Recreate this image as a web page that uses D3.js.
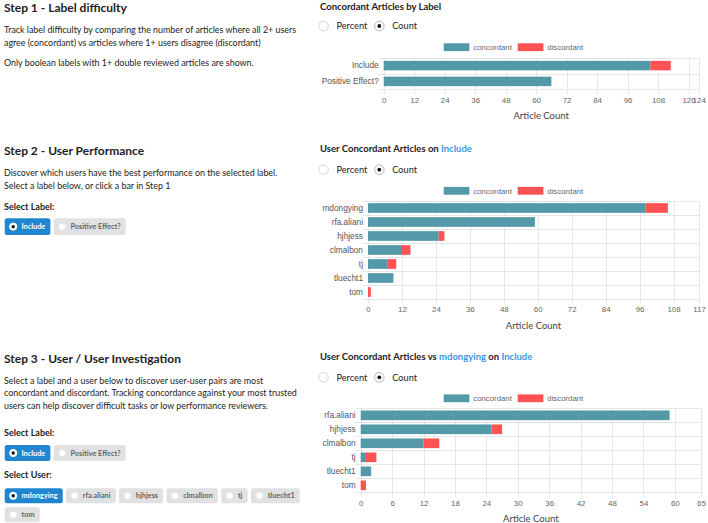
<!DOCTYPE html>
<html>
<head>
<meta charset="utf-8">
<script src="https://cdn.jsdelivr.net/npm/d3@7"></script>
<style>
  html, body { margin: 0; padding: 0; background: #fff; }
  svg { display: block; }
  .page { font-family: Lato, "Noto Sans", sans-serif; }
  .chartfont { font-family: "Liberation Sans", Arial, sans-serif; }
</style>
</head>
<body>
<svg id="root" width="708" height="523"></svg>
<script>
// ---------------- DATA ----------------
const labelNames = ["Include", "Positive Effect?"];
const labelConcordant = [105, 66];
const labelDiscordant = [8, 0];
const labelTicks = [0, 12, 24, 36, 48, 60, 72, 84, 96, 108, 120, 124];

const userNames = ["mdongying", "rfa.aliani", "hjhjess", "clmalbon", "tj", "tluecht1", "tom"];
const userConcordant = [98, 59, 25, 12, 7, 9, 0];
const userDiscordant = [8, 0, 2, 3, 3, 0, 1];
const userTicks = [0, 12, 24, 36, 48, 60, 72, 84, 96, 108, 117];

const pairNames = ["rfa.aliani", "hjhjess", "clmalbon", "tj", "tluecht1", "tom"];
const pairConcordant = [59, 25, 12, 1, 2, 0];
const pairDiscordant = [0, 2, 3, 2, 0, 1];
const pairTicks = [0, 6, 12, 18, 24, 30, 36, 42, 48, 54, 60, 65];

const seriesNames = ["concordant", "discordant"];
const selectLabelOptions = ["Include", "Positive Effect?"];
const selectUserOptions = ["mdongying", "rfa.aliani", "hjhjess", "clmalbon", "tj", "tluecht1", "tom"];

// ---------------- STYLE ----------------
const COL_CONC = "#5499a8";
const COL_DISC = "#ff5252";
const COL_GRID = "#e6e6e6";
const COL_TEXT = "#222";
const COL_AXIS = "#666";
const COL_BLUE = "#2185d0";
const COL_LINK = "#3a98e0";
const COL_BTN = "#e0e1e2";

const svg = d3.select("#root");
const page = svg.append("g").attr("class", "page");

// ---------------- LEFT COLUMN ----------------
function heading(y, t) {
  page.append("text").attr("x", 4).attr("y", y).attr("dy", "0.35em")
    .attr("font-size", 12).attr("font-weight", 700).attr("fill", COL_TEXT).text(t);
}
function para(y, t) {
  page.append("text").attr("x", 4).attr("y", y).attr("dy", "0.35em")
    .attr("font-size", 8.9).attr("fill", COL_TEXT).text(t);
}
function sublabel(y, t) {
  page.append("text").attr("x", 4).attr("y", y).attr("dy", "0.35em")
    .attr("font-size", 9).attr("font-weight", 700).attr("fill", COL_TEXT).text(t);
}
// lay buttons out in a row, wrapping the listed option to a new row
function buttons(opts, selected, y0, h, wrapBefore, rowGap) {
  let x = 4.7, y = y0;
  opts.forEach(o => {
    const g = page.append("g");
    const t = g.append("text").attr("font-size", 7.3).attr("font-weight", 700)
      .attr("fill", o === selected ? "#fff" : "#666").text(o);
    const w = t.node().getComputedTextLength() + 22;
    if (o === wrapBefore) { x = 4.7; y += h + rowGap; }
    g.insert("rect", "text").attr("x", x).attr("y", y).attr("width", w).attr("height", h)
      .attr("rx", 2.5).attr("fill", o === selected ? COL_BLUE : COL_BTN);
    g.append("circle").attr("cx", x + 8.5).attr("cy", y + h / 2).attr("r", 3.6)
      .attr("fill", "#fff").attr("stroke", o === selected ? "#fff" : "#e8e8e8");
    if (o === selected) {
      g.append("circle").attr("cx", x + 8.5).attr("cy", y + h / 2).attr("r", 1.7).attr("fill", "#111");
    }
    t.attr("x", x + 16.8).attr("y", y + h / 2).attr("dy", "0.35em");
    x += w + 3.2;
  });
}

heading(8, "Step 1 - Label difficulty");
para(30, "Track label difficulty by comparing the number of articles where all 2+ users");
para(42.7, "agree (concordant) vs articles where 1+ users disagree (discordant)");
para(63.3, "Only boolean labels with 1+ double reviewed articles are shown.");

heading(150.7, "Step 2 - User Performance");
para(172.7, "Discover which users have the best performance on the selected label.");
para(186, "Select a label below, or click a bar in Step 1");
sublabel(206.7, "Select Label:");
buttons(selectLabelOptions, "Include", 218.3, 16.7, null, 4);

heading(358.3, "Step 3 - User / User Investigation");
para(380.7, "Select a label and a user below to discover user-user pairs are most");
para(393.3, "concordant and discordant. Tracking concordance against your most trusted");
para(405.7, "users can help discover difficult tasks or low performance reviewers.");
sublabel(433.3, "Select Label:");
buttons(selectLabelOptions, "Include", 445, 16, null, 4);
sublabel(475, "Select User:");
buttons(selectUserOptions, "mdongying", 488.3, 15, "tom", 4);

// ---------------- CHARTS ----------------
function chartHeader(cfg) {
  const t = page.append("text").attr("x", 320).attr("y", cfg.titleY).attr("dy", "0.35em")
    .attr("font-size", 9.5).attr("font-weight", 700).attr("fill", COL_TEXT);
  cfg.title.forEach(p => t.append("tspan").attr("fill", p.link ? COL_LINK : COL_TEXT).text(p.t));
  const ry = cfg.radioY;
  [{x: 323.5, t: "Percent", on: false}, {x: 379.3, t: "Count", on: true}].forEach(r => {
    page.append("circle").attr("cx", r.x).attr("cy", ry).attr("r", 4.8)
      .attr("fill", "#fff").attr("stroke", r.on ? "#b5b5b5" : "#d4d4d5");
    if (r.on) page.append("circle").attr("cx", r.x).attr("cy", ry).attr("r", 1.9).attr("fill", "#111");
    page.append("text").attr("x", r.x + 13).attr("y", ry).attr("dy", "0.35em")
      .attr("font-size", 9.2).attr("fill", COL_TEXT).text(r.t);
  });
}

function legend(y) {
  const g = svg.append("g").attr("class", "chartfont");
  const items = [{x: 443.7, c: COL_CONC}, {x: 517.7, c: COL_DISC}];
  items.forEach((it, i) => {
    g.append("rect").attr("x", it.x).attr("y", y - 3.9).attr("width", 25.7).attr("height", 7.8).attr("fill", it.c);
    g.append("text").attr("x", it.x + 29.6).attr("y", y).attr("dy", "0.35em")
      .attr("font-size", 7.8).attr("fill", COL_AXIS).text(seriesNames[i]);
  });
}

function barChart(cfg) {
  chartHeader(cfg);
  legend(cfg.legendY);
  const g = svg.append("g").attr("class", "chartfont");
  const x = d3.scaleLinear().domain([0, cfg.ticks[cfg.ticks.length - 1]]).range([cfg.x0, cfg.x1]);
  const y = d3.scaleBand().domain(cfg.names).range([cfg.y0, cfg.y1])
    .paddingInner(cfg.pad).paddingOuter(cfg.pad / 2);
  const step = y.step();

  const grid = g.append("g");
  d3.range(cfg.names.length + 1).forEach(i => {
    const yy = Math.round(cfg.y0 + i * step) + 0.5;
    grid.append("line").attr("x1", cfg.x0 - 5).attr("x2", cfg.x1).attr("y1", yy).attr("y2", yy)
      .attr("stroke", COL_GRID);
  });
  const xAxis = d3.axisBottom(x).tickValues(cfg.ticks).tickSize(0).tickPadding(0)
    .tickFormat(d3.format("d"));
  const ax = g.append("g").attr("transform", `translate(0,${cfg.y1 + 10.5})`).call(xAxis);
  ax.select(".domain").remove();
  ax.selectAll("text").attr("dy", "0.35em").attr("y", 0)
    .attr("font-size", 7.9).attr("fill", COL_AXIS).attr("font-family", "Liberation Sans, Arial, sans-serif");
  cfg.ticks.forEach(t => {
    const xx = Math.round(x(t)) + 0.5;
    grid.append("line").attr("x1", xx).attr("x2", xx).attr("y1", cfg.y0).attr("y2", cfg.y1 + 4.5)
      .attr("stroke", COL_GRID);
  });

  const yAxis = d3.axisLeft(y).tickSize(0).tickPadding(5);
  const ay = g.append("g").attr("transform", `translate(${cfg.x0},0)`).call(yAxis);
  ay.select(".domain").remove();
  ay.selectAll("text").attr("font-size", 8.3).attr("fill", "#555")
    .attr("font-family", "Liberation Sans, Arial, sans-serif");

  const rows = cfg.names.map((n, i) => ({n, c: cfg.conc[i], d: cfg.disc[i]}));
  const bars = g.append("g");
  bars.selectAll("rect.c").data(rows).join("rect").attr("class", "c")
    .attr("x", d => x(0)).attr("y", d => y(d.n))
    .attr("width", d => x(d.c) - x(0)).attr("height", y.bandwidth()).attr("fill", COL_CONC);
  bars.selectAll("rect.d").data(rows).join("rect").attr("class", "d")
    .attr("x", d => x(d.c)).attr("y", d => y(d.n))
    .attr("width", d => x(d.c + d.d) - x(d.c)).attr("height", y.bandwidth()).attr("fill", COL_DISC);

  page.append("text").attr("x", (cfg.x0 + cfg.x1) / 2).attr("y", cfg.y1 + 26.5).attr("dy", "0.35em")
    .attr("text-anchor", "middle").attr("font-size", 9.5).attr("fill", "#444").text("Article Count");
}

barChart({
  title: [{t: "Concordant Articles by Label"}], titleY: 6.5, radioY: 26, legendY: 47.2,
  names: labelNames, conc: labelConcordant, disc: labelDiscordant, ticks: labelTicks,
  x0: 383.7, x1: 698.7, y0: 57.7, y1: 89.3, pad: 0.4
});
barChart({
  title: [{t: "User Concordant Articles on "}, {t: "Include", link: true}], titleY: 149, radioY: 169.7, legendY: 190.8,
  names: userNames, conc: userConcordant, disc: userDiscordant, ticks: userTicks,
  x0: 368, x1: 699, y0: 201, y1: 299, pad: 0.31
});
barChart({
  title: [{t: "User Concordant Articles vs "}, {t: "mdongying", link: true}, {t: " on "}, {t: "Include", link: true}],
  titleY: 356.7, radioY: 377.3, legendY: 398.3,
  names: pairNames, conc: pairConcordant, disc: pairDiscordant, ticks: pairTicks,
  x0: 360.7, x1: 701, y0: 408.3, y1: 492.3, pad: 0.31
});
</script>
</body>
</html>
